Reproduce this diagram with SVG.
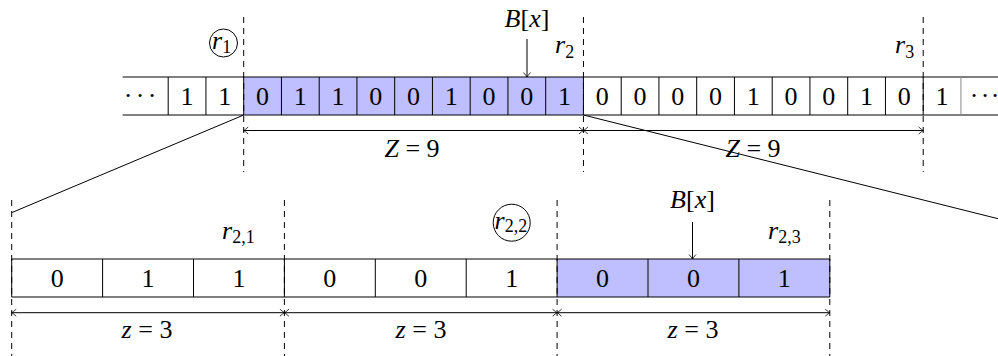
<svg xmlns="http://www.w3.org/2000/svg" width="998" height="356" viewBox="0 0 998 356">
<style>
text{font-family:"Liberation Serif","Times New Roman",serif}
.t{font-size:26px;fill:#000}
.c{text-anchor:middle}
.i{font-style:italic}
.s{font-size:18px;font-style:normal}
.ln{stroke:#000;stroke-width:1;fill:none}
.dash{stroke:#000;stroke-width:1;stroke-dasharray:6 5;fill:none}
.blue{fill:#bfbfff}
.dim{stroke:#000;stroke-width:1;fill:none;marker-start:url(#arr);marker-end:url(#arr)}
</style>
<defs>
<marker id="arr" viewBox="-6 -5 8 10" refX="0" refY="0" markerWidth="8" markerHeight="10" orient="auto-start-reverse" markerUnits="userSpaceOnUse">
<path d="M-4.5,-3.5 Q-1.5,-0.8 0,0 Q-1.5,0.8 -4.5,3.5" fill="none" stroke="#000" stroke-width="0.8"/>
</marker>
</defs>

<g id="top-array">
<rect class="blue" x="243.7" y="77" width="339.75" height="38"/>
<path class="ln" d="M122.7,77H998M122.7,115H998"/>
<path class="ln" d="M168.2,77V115M205.95,77V115M243.7,77V115M281.45,77V115M319.2,77V115M356.95,77V115M394.7,77V115M432.45,77V115M470.2,77V115M507.95,77V115M545.7,77V115M583.45,77V115M621.2,77V115M658.95,77V115M696.7,77V115M734.45,77V115M772.2,77V115M809.95,77V115M847.7,77V115M885.45,77V115M923.2,77V115"/>
<path d="M960.95,77V115" stroke="#888" stroke-width="1"/>
<text class="t c" x="128 140 152" y="104">···</text>
<text class="t c" x="187.1 224.8 262.6 300.3 338.1 375.8 413.6 451.3 489.1 526.8 564.6 602.3 640.1 677.8 715.6 753.3 791.1 828.8 866.6 904.3 942.1" y="105">110110010010000100101</text>
<text class="t c" x="974 985 995" y="104">···</text>
</g>

<g id="top-marks">
<path class="dash" d="M243.7,17V172M583.45,17V172M923.2,17V172"/>
<circle cx="223.5" cy="43" r="14" class="ln"/>
<text class="t i" x="212" y="49">r<tspan class="s" dy="4">1</tspan></text>
<text class="t i" x="555" y="53">r<tspan class="s" dy="5">2</tspan></text>
<text class="t i" x="895" y="53">r<tspan class="s" dy="5">3</tspan></text>
<text class="t c" x="527" y="27"><tspan class="i">B</tspan>[<tspan class="i">x</tspan>]</text>
</g>

<g id="bottom-array">
<rect class="blue" x="557.1" y="259" width="272.7" height="38"/>
<path class="ln" d="M11.7,259H829.8M11.7,297H829.8"/>
<path class="ln" d="M11.7,259V297M102.6,259V297M193.5,259V297M284.4,259V297M375.3,259V297M466.2,259V297M557.1,259V297M648,259V297M738.9,259V297M829.8,259V297"/>
<text class="t c" x="57.15 148.05 238.95 329.85 420.75 511.65 602.55 693.45 784.35" y="287">011001001</text>
</g>

<g id="bottom-marks">
<path class="dash" d="M11.7,200V356M284.4,200V356M557.1,200V356M829.8,200V356"/>
<text class="t i" x="222" y="239">r<tspan class="s" dy="4">2,1</tspan></text>
<circle cx="511.7" cy="222.7" r="18.5" class="ln"/>
<text class="t i" x="494.5" y="229">r<tspan class="s" dy="3">2,2</tspan></text>
<text class="t i" x="768" y="239">r<tspan class="s" dy="4">2,3</tspan></text>
<text class="t c" x="692.5" y="207.5"><tspan class="i">B</tspan>[<tspan class="i">x</tspan>]</text>
</g>

<g id="connectors">
<path class="ln" d="M243.7,115L12,212.5"/>
<path class="ln" d="M583.45,115L998,218.7"/>
<path class="dim" d="M243.7,130.5H583.45"/>
<path class="dim" d="M583.45,130.5H923.2"/>
<path class="dim" d="M11.7,312.7H284.4"/>
<path class="dim" d="M284.4,312.7H557.1"/>
<path class="dim" d="M557.1,312.7H829.8"/>
<path class="ln" d="M527,39V77" marker-end="url(#arr)"/>
<path class="ln" d="M692.5,222V259" marker-end="url(#arr)"/>
</g>

<g id="dim-labels">
<text class="t c" x="412" y="157"><tspan class="i">Z</tspan> = 9</text>
<text class="t c" x="753" y="157"><tspan class="i">Z</tspan> = 9</text>
<text class="t c" x="147" y="338"><tspan class="i">z</tspan> = 3</text>
<text class="t c" x="421" y="338"><tspan class="i">z</tspan> = 3</text>
<text class="t c" x="693" y="338"><tspan class="i">z</tspan> = 3</text>
</g>
</svg>
